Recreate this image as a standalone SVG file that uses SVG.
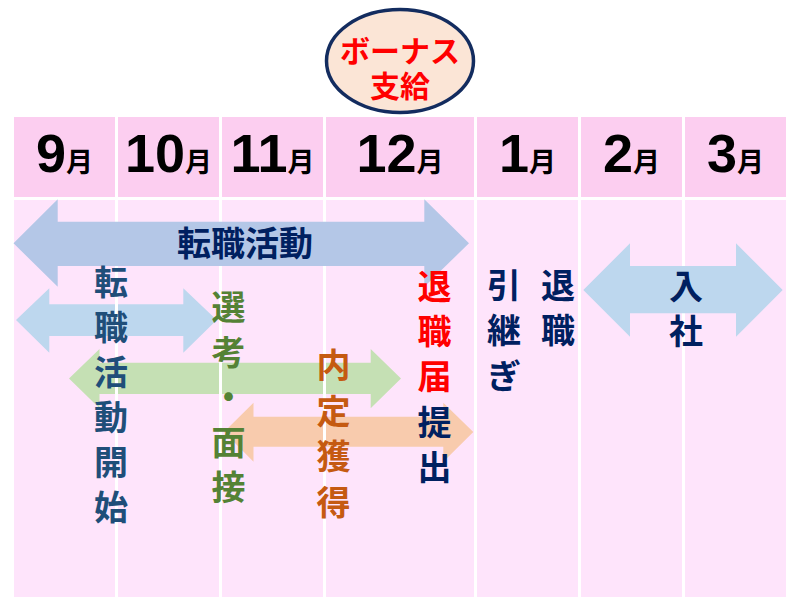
<svg xmlns="http://www.w3.org/2000/svg" width="802" height="611" viewBox="0 0 802 611">
<style>
.hdr{fill:#FCCEF0}
.body{fill:#FEE4FB}
.grid{fill:#FFFFFF}
.mon{font-family:"Liberation Sans","Noto Sans CJK JP",sans-serif;font-weight:bold;fill:#000000;text-anchor:middle}
.num{font-size:54px}
.tsuki{font-size:27px;font-family:"Noto Sans CJK JP",sans-serif}
.jp{font-family:"Noto Sans CJK JP","Noto Sans CJK SC",sans-serif;font-weight:bold;text-anchor:middle;font-size:34px}
.navy{fill:#002060}
.blue{fill:#1F4E79}
.green{fill:#548235}
.orange{fill:#C55A11}
.red{fill:#FF0000}
</style>
<rect width="802" height="611" fill="#FFFFFF"/>
<g id="table">
  <rect class="hdr" x="14" y="117" width="772" height="80"/>
  <rect class="body" x="14" y="200" width="772" height="397"/>
</g>
<g id="arrows-under">
  <g id="arrow-start">
    <path fill="#BDD7EE" d="M16,320 L49.3,288.3 L49.3,304.3 L183.3,304.3 L183.3,288.3 L216.7,320 L183.3,352.7 L183.3,336 L49.3,336 L49.3,352.7 Z"/>
  </g>
  <g id="arrow-selection">
    <path fill="#C5E0B4" d="M69,378.5 L99.5,349 L99.5,362.7 L370.7,362.7 L370.7,349 L401,378.5 L370.7,408.3 L370.7,394 L99.5,394 L99.5,408.3 Z"/>
  </g>
  <g id="arrow-offer">
    <path fill="#F8CBAD" d="M224,432 L253.5,402.7 L253.5,416.7 L443.3,416.7 L443.3,402.7 L473.3,432 L443.3,461.7 L443.3,446.7 L253.5,446.7 L253.5,461.7 Z"/>
  </g>
</g>
<g id="gridlines">
  <rect class="grid" x="115" y="117" width="3" height="480"/>
  <rect class="grid" x="219" y="117" width="3" height="480"/>
  <rect class="grid" x="323" y="117" width="3" height="480"/>
  <rect class="grid" x="474" y="117" width="3" height="480"/>
  <rect class="grid" x="578" y="117" width="3" height="480"/>
  <rect class="grid" x="682" y="117" width="3" height="480"/>
  <rect class="grid" x="14" y="197" width="772" height="3"/>
</g>
<g id="arrows-over">
  <g id="arrow-jobhunt">
    <path fill="#B4C7E7" d="M13.5,243.3 L57.7,199.3 L57.7,221.7 L424.3,221.7 L424.3,199.3 L469,243.3 L424.3,286.7 L424.3,266 L57.7,266 L57.7,286.7 Z"/>
  </g>
  <g id="arrow-join">
    <path fill="#BDD7EE" d="M583.3,290 L630,243.3 L630,266 L736,266 L736,243.3 L782.7,290 L736,336.7 L736,313.3 L630,313.3 L630,336.7 Z"/>
  </g>
</g>
<g id="months">
  <text class="mon" x="64.5" y="172"><tspan class="num">9</tspan><tspan class="tsuki">月</tspan></text>
  <text class="mon" x="168.5" y="172"><tspan class="num">10</tspan><tspan class="tsuki">月</tspan></text>
  <text class="mon" x="272.5" y="172"><tspan class="num">11</tspan><tspan class="tsuki">月</tspan></text>
  <text class="mon" x="400" y="172"><tspan class="num">12</tspan><tspan class="tsuki">月</tspan></text>
  <text class="mon" x="527.5" y="172"><tspan class="num">1</tspan><tspan class="tsuki">月</tspan></text>
  <text class="mon" x="631.5" y="172"><tspan class="num">2</tspan><tspan class="tsuki">月</tspan></text>
  <text class="mon" x="735.5" y="172"><tspan class="num">3</tspan><tspan class="tsuki">月</tspan></text>
</g>
<g id="bonus">
  <ellipse cx="400" cy="61" rx="73.5" ry="51.5" fill="#FBE5D6" stroke="#132C5F" stroke-width="3.5"/>
  <text class="jp red" style="font-size:30px"><tspan x="400" y="62">ボーナス</tspan><tspan x="400" y="97">支給</tspan></text>
</g>
<g id="labels">
  <text class="jp navy" x="245" y="256">転職活動</text>
  <text class="jp blue"><tspan x="111" y="294.5">転</tspan><tspan x="111" y="339.5">職</tspan><tspan x="111" y="384.5">活</tspan><tspan x="111" y="429.5">動</tspan><tspan x="111" y="474.5">開</tspan><tspan x="111" y="519.5">始</tspan></text>
  <text class="jp green"><tspan x="228.5" y="319.5">選</tspan><tspan x="228.5" y="364.5">考</tspan><tspan x="228.5" y="409.5">・</tspan><tspan x="228.5" y="454.5">面</tspan><tspan x="228.5" y="499.5">接</tspan></text>
  <text class="jp orange"><tspan x="333.5" y="378">内</tspan><tspan x="333.5" y="423.5">定</tspan><tspan x="333.5" y="469">獲</tspan><tspan x="333.5" y="514.5">得</tspan></text>
  <text class="jp red"><tspan x="434.5" y="298.5">退</tspan><tspan x="434.5" y="343.5">職</tspan><tspan x="434.5" y="389">届</tspan></text>
  <text class="jp navy"><tspan x="434.5" y="435">提</tspan><tspan x="434.5" y="480">出</tspan></text>
  <text class="jp navy"><tspan x="504" y="297.5">引</tspan><tspan x="504" y="343">継</tspan><tspan x="504" y="388.5">ぎ</tspan></text>
  <text class="jp navy"><tspan x="558" y="297.5">退</tspan><tspan x="558" y="343">職</tspan></text>
  <text class="jp navy"><tspan x="686" y="298.5">入</tspan><tspan x="686" y="343.5">社</tspan></text>
</g>
</svg>
